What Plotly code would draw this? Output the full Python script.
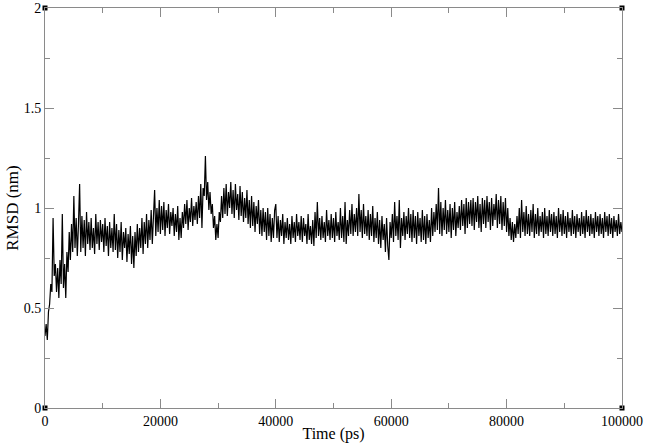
import numpy as np
import plotly.graph_objects as go

# sampling grid of the trajectory (ps)
time_ps = np.arange(0, 100001, 200)

# RMSD values (nm), 10 samples per 2000 ps
rmsd_nm = [
    0.36, 0.42, 0.34, 0.48, 0.52, 0.62, 0.58, 0.95, 0.66, 0.72,
    0.58, 0.70, 0.55, 0.74, 0.62, 0.97, 0.60, 0.72, 0.55, 0.78,
    0.68, 0.88, 0.74, 0.92, 0.78, 1.06, 0.80, 0.95, 0.76, 0.92,
    1.12, 0.78, 0.96, 0.80, 0.94, 0.76, 0.98, 0.82, 0.93, 0.79,
    0.95, 0.80, 0.90, 0.77, 0.97, 0.82, 0.93, 0.79, 0.94, 0.83,
    0.92, 0.78, 0.95, 0.81, 0.91, 0.76, 0.93, 0.80, 0.90, 0.78,
    0.97, 0.79, 0.92, 0.75, 0.89, 0.78, 0.93, 0.74, 0.88, 0.80,
    0.90, 0.73, 0.87, 0.77, 0.91, 0.72, 0.86, 0.70, 0.88, 0.76,
    0.92, 0.78, 0.90, 0.80, 0.95, 0.77, 0.93, 0.82, 0.97, 0.80,
    0.94, 0.84, 0.99, 0.82, 0.96, 1.09, 0.86, 1.00, 0.88, 1.04,
    0.87, 1.01, 0.89, 1.03, 0.86, 0.99, 0.90, 1.02, 0.87, 0.98,
    0.91, 1.00, 0.86, 0.97, 0.88, 1.01, 0.84, 0.95, 0.85, 0.98,
    0.90, 1.02, 0.92, 1.04, 0.89, 1.00, 0.93, 1.05, 0.91, 1.01,
    0.94, 1.03, 0.92, 1.06, 0.95, 1.12, 0.90, 1.10, 1.06, 1.26,
    1.04, 1.13, 0.99, 1.08, 0.97, 1.02, 0.90, 0.96, 0.84, 0.92,
    0.85, 0.98, 0.93, 1.06, 0.95, 1.10, 0.97, 1.12, 0.96, 1.08,
    1.00, 1.13, 0.97, 1.09, 0.95, 1.12, 0.99, 1.07, 0.94, 1.11,
    0.96, 1.08, 0.93, 1.05, 0.95, 1.09, 0.92, 1.04, 0.90, 1.06,
    0.91, 1.03, 0.88, 1.01, 0.92, 1.04, 0.87, 0.99, 0.86, 1.00,
    0.88, 0.98, 0.84, 1.00, 0.86, 0.97, 0.83, 0.95, 0.85, 0.99,
    1.02, 0.85, 0.96, 0.83, 0.94, 0.86, 0.97, 0.82, 0.93, 0.85,
    0.95, 0.84, 0.92, 0.82, 0.96, 0.85, 0.93, 0.83, 0.97, 0.86,
    0.93, 0.84, 0.96, 0.83, 0.95, 0.86, 0.92, 0.82, 0.97, 0.84,
    0.91, 0.82, 0.94, 0.81, 0.98, 0.85, 1.03, 0.86, 0.95, 0.84,
    0.96, 0.85, 0.93, 0.83, 0.99, 0.86, 0.94, 0.84, 0.97, 0.85,
    0.95, 0.83, 0.98, 0.86, 0.93, 0.84, 1.00, 0.85, 0.96, 0.83,
    1.03, 0.82, 0.94, 0.86, 0.99, 0.87, 1.02, 0.86, 0.97, 0.88,
    1.00, 0.86, 1.07, 0.88, 0.99, 0.85, 1.02, 0.87, 0.96, 0.86,
    0.99, 0.84, 0.97, 0.86, 1.01, 0.83, 0.95, 0.85, 0.98, 0.82,
    0.94, 0.80, 0.96, 0.84, 0.92, 0.78, 0.95, 0.81, 0.74, 0.93,
    0.85, 0.97, 0.83, 1.03, 0.86, 0.96, 0.84, 1.04, 0.80, 0.95,
    0.86, 0.98, 0.84, 0.96, 0.87, 1.00, 0.85, 0.97, 0.83, 0.99,
    0.85, 0.96, 0.82, 0.98, 0.86, 0.95, 0.83, 0.99, 0.84, 0.96,
    0.82, 0.97, 0.85, 0.94, 0.83, 1.00, 0.86, 0.98, 0.88, 1.02,
    0.89, 1.10, 0.87, 1.03, 0.86, 1.00, 0.89, 1.04, 0.87, 0.99,
    0.88, 1.02, 0.85, 1.00, 0.89, 1.03, 0.86, 0.98, 0.90, 1.01,
    0.89, 1.04, 0.91, 1.02, 0.87, 1.05, 0.90, 1.03, 0.92, 1.04,
    0.91, 1.05, 0.89, 1.03, 0.93, 1.06, 0.90, 1.02, 0.88, 1.05,
    0.92, 1.04, 0.90, 1.06, 0.93, 1.03, 0.89, 1.05, 0.91, 1.02,
    0.94, 1.07, 0.90, 1.04, 0.92, 1.06, 0.89, 1.03, 0.91, 1.05,
    0.88, 1.00, 0.86, 0.95, 0.84, 0.93, 0.83, 0.92, 0.85, 0.96,
    0.87, 1.00, 0.85, 1.04, 0.88, 0.98, 0.86, 1.01, 0.87, 0.97,
    0.86, 0.99, 0.88, 1.02, 0.85, 0.97, 0.87, 1.00, 0.86, 0.96,
    0.88, 0.98, 0.85, 1.00, 0.87, 0.96, 0.86, 0.99, 0.88, 0.97,
    0.86, 0.98, 0.87, 0.96, 0.85, 1.00, 0.88, 0.97, 0.86, 0.99,
    0.87, 0.96, 0.85, 0.98, 0.88, 0.95, 0.86, 0.99, 0.87, 0.96,
    0.85, 0.97, 0.88, 0.95, 0.86, 0.98, 0.87, 0.96, 0.85, 0.99,
    0.88, 0.96, 0.86, 0.97, 0.87, 0.95, 0.85, 0.98, 0.88, 0.96,
    0.86, 0.97, 0.87, 0.95, 0.85, 0.98, 0.88, 0.96, 0.86, 0.97,
    0.87, 0.95, 0.85, 0.96, 0.88, 0.94, 0.86, 0.97, 0.87, 0.93,
    0.88,
]

# small squares xmgrace draws at the frame corners
corner_x = [0, 0, 100000, 100000]
corner_y = [0, 2, 0, 2]

FONT = "Liberation Serif"
GREY = "#8a8a8a"

fig = go.Figure()
fig.add_trace(go.Scatter(x=time_ps, y=rmsd_nm, mode="lines",
                         line=dict(color="black", width=1.2, simplify=False),
                         showlegend=False, hoverinfo="skip"))
fig.add_trace(go.Scatter(x=corner_x, y=corner_y, mode="markers", cliponaxis=False,
                         marker=dict(symbol="square", size=5, color="black"),
                         showlegend=False, hoverinfo="skip"))

axis_common = dict(
    showgrid=False, zeroline=False, showline=True, linecolor=GREY,
    linewidth=1, mirror="allticks", ticks="inside", ticklen=9,
    tickcolor=GREY, tickwidth=1, automargin=False,
    tickfont=dict(family=FONT, size=14, color="black"),
)
fig.update_xaxes(range=[0, 100000], dtick=20000, tick0=0, tickformat="d",
                 minor=dict(dtick=10000, ticks="inside", ticklen=5, tickcolor=GREY),
                 title=dict(text="Time (ps)", font=dict(family=FONT, size=16, color="black"),
                            standoff=0),
                 **axis_common)
fig.update_yaxes(range=[0, 2], dtick=0.5, tick0=0,
                 minor=dict(dtick=0.25, ticks="inside", ticklen=5, tickcolor=GREY),
                 title=dict(text="RMSD (nm)", font=dict(family=FONT, size=17, color="black"),
                            standoff=0),
                 **axis_common)

fig.update_layout(width=645, height=447,
                  margin=dict(l=45, r=23, t=8, b=39),
                  plot_bgcolor="white", paper_bgcolor="white")

fig.write_html("out.html", config={"displayModeBar": False},
               post_script="document.body.style.margin='0px';")
